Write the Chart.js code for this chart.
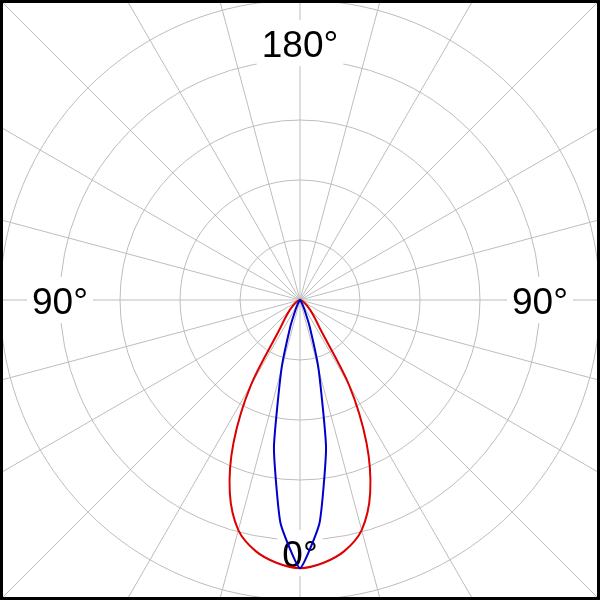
<!DOCTYPE html>
<html>
<head>
<meta charset="utf-8">
<script src="https://cdn.jsdelivr.net/npm/chart.js@4/dist/chart.umd.min.js"></script>
<style>
  html, body { margin: 0; padding: 0; background: #fff; }
  #wrap { position: relative; width: 600px; height: 600px; overflow: hidden; background: #fff; }
  #holder { position: absolute; left: -130px; top: -130px; width: 860px; height: 860px; }
  #frame { position: absolute; left: 0; top: 0; width: 600px; height: 600px; box-sizing: border-box; border: 3px solid #000; pointer-events: none; }
</style>
</head>
<body>
<div id="wrap">
  <div id="holder"><canvas id="polar" width="860" height="860"></canvas></div>
  <div id="frame"></div>
</div>
<script>
// gamma angles, 5 degree steps (0 = straight down)
const angles = [0,5,10,15,20,25,30,35,40,45,50,55,60,65,70,75,80,85,90,95,100,105,110,115,
  120,125,130,135,140,145,150,155,160,165,170,175,180,185,190,195,200,205,210,215,220,225,230,235,
  240,245,250,255,260,265,270,275,280,285,290,295,300,305,310,315,320,325,330,335,340,345,350,355];

// intensity, wide beam (red)
const wideBeam = [447,440,425,397,342,262,163,58,37,25,17,12,
  8,5,3,2,1,0,0,0,0,0,0,0,
  0,0,0,0,0,0,0,0,0,0,0,0,
  0,0,0,0,0,0,0,0,0,0,0,0,
  0,0,0,0,0,0,0,0,1,2,3,5,
  8,12,17,25,37,58,163,262,342,397,425,440];

// intensity, narrow beam (blue)
const narrowBeam = [447,373,250,120,47,17,7,3,2,1,0,0,
  0,0,0,0,0,0,0,0,0,0,0,0,
  0,0,0,0,0,0,0,0,0,0,0,0,
  0,0,0,0,0,0,0,0,0,0,0,0,
  0,0,0,0,0,0,0,0,0,0,0,0,
  0,0,0,1,2,3,7,17,47,120,250,373];

const ringStep = 100;      // one grid circle
const ringMax = 500;       // last visible circle
const axisLabelIdx = [0, 18, 36, 54];
const axisLabelText = ['0°', '90°', '180°', '90°'];

const GRID = '#bdbdbd';

// draws the angle captions over the grid, under the curves
const angleCaptions = {
  id: 'angleCaptions',
  beforeDatasetsDraw(chart) {
    const r = chart.scales.r;
    const ctx = chart.ctx;
    const dist = [253, 240, 257, 240];
    ctx.save();
    ctx.font = '37px "Liberation Sans", Arial, sans-serif';
    ctx.textAlign = 'center';
    ctx.textBaseline = 'alphabetic';
    axisLabelIdx.forEach((idx, k) => {
      const p = r.getPointPosition(idx, dist[k]);
      const txt = axisLabelText[k];
      const w = ctx.measureText(txt).width;
      ctx.fillStyle = '#fff';
      ctx.fillRect(p.x - w / 2 - 5, p.y - 23, w + 10, 46);
      ctx.fillStyle = '#000';
      ctx.fillText(txt, p.x, p.y + 13.5);
    });
    ctx.restore();
  }
};

new Chart(document.getElementById('polar'), {
  type: 'radar',
  data: {
    labels: angles.map(a => a + '°'),
    datasets: [
      { label: 'narrow', data: narrowBeam, borderColor: '#0000cc', borderWidth: 2, fill: false, pointRadius: 0, tension: 0.15 },
      { label: 'wide', data: wideBeam, borderColor: '#dd0000', borderWidth: 2, fill: false, pointRadius: 0, tension: 0.3 }
    ]
  },
  options: {
    responsive: false,
    animation: false,
    layout: { padding: 0 },
    plugins: { legend: { display: false }, tooltip: { enabled: false } },
    scales: {
      r: {
        min: 0,
        max: ringStep * 430 / 60,
        startAngle: 180,
        ticks: { display: false, stepSize: ringStep },
        pointLabels: { display: false },
        grid: {
          circular: true,
          color: ctx => (ctx.tick && ctx.tick.value <= ringMax) ? GRID : 'rgba(0,0,0,0)',
          lineWidth: 1
        },
        angleLines: {
          color: GRID,
          lineWidth: ctx => (ctx.index % 3 === 0) ? 1 : 0
        }
      }
    }
  },
  plugins: [angleCaptions]
});
</script>
</body>
</html>
